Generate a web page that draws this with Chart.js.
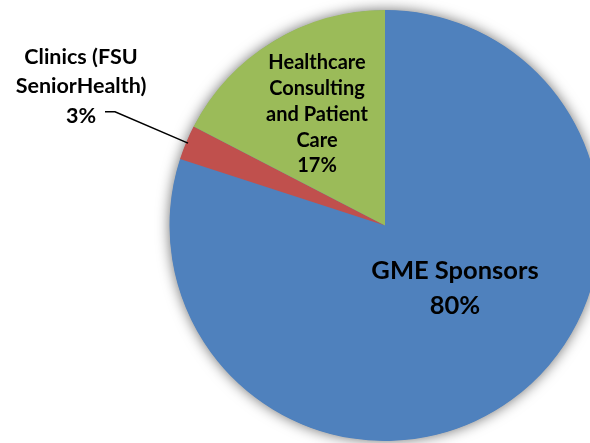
<!DOCTYPE html>
<html>
<head>
<meta charset="utf-8">
<script src="https://cdn.jsdelivr.net/npm/chart.js@4/dist/chart.umd.min.js"></script>
<style>
  html, body { margin: 0; padding: 0; background: #fff; overflow: hidden; width: 590px; height: 443px; }
  #wrap { position: absolute; left: 0; top: 0; width: 770px; height: 443px; }
</style>
</head>
<body>
<div id="wrap"><canvas id="c" width="770" height="443"></canvas></div>
<script>
const categories = ["GME Sponsors", "Clinics (FSU SeniorHealth)", "Healthcare Consulting and Patient Care"];
const values = [80, 2.6, 17.4];
const percentLabels = ["80%", "3%", "17%"];
const colors = ["#4F81BD", "#C0504D", "#9BBB59"];
const labelLines = [
  ["GME Sponsors", "80%"],
  ["Clinics (FSU", "SeniorHealth)", "3%"],
  ["Healthcare", "Consulting", "and Patient", "Care", "17%"]
];

const FONT = "Lato, 'Open Sans', 'DejaVu Sans', sans-serif";

const shadowPlugin = {
  id: 'pieShadow',
  beforeDatasetsDraw(chart) {
    const arc = chart.getDatasetMeta(0).data[0];
    if (!arc) return;
    const ctx = chart.ctx;
    ctx.save();
    ctx.shadowColor = 'rgba(0,0,0,0.6)';
    ctx.shadowBlur = 14;
    ctx.fillStyle = '#4F81BD';
    ctx.beginPath();
    ctx.arc(arc.x, arc.y, arc.outerRadius - 0.5, 0, Math.PI * 2);
    ctx.fill();
    ctx.restore();
  }
};

const labelPlugin = {
  id: 'sliceLabels',
  afterDatasetsDraw(chart) {
    const ctx = chart.ctx;
    const meta = chart.getDatasetMeta(0);
    const cx = meta.data[0].x, cy = meta.data[0].y, r = meta.data[0].outerRadius;
    ctx.save();
    ctx.fillStyle = '#000';
    ctx.textAlign = 'center';
    ctx.textBaseline = 'alphabetic';
    // GME Sponsors (inside blue)
    ctx.font = "bold 25.5px " + FONT;
    const g = labelLines[0];
    ctx.fillText(g[0], cx + 70, cy + 53);
    ctx.fillText(g[1], cx + 70, cy + 88);
    // Healthcare (inside green)
    ctx.font = "bold 20px " + FONT;
    const h = labelLines[2];
    const hb = [68.5, 94.5, 120.5, 146.5, 172];
    h.forEach((t, i) => ctx.fillText(t, cx - 68, hb[i]));
    // Clinics (outside, with leader line)
    ctx.font = "bold 21.5px " + FONT;
    const c = labelLines[1];
    const cb = [64.3, 93.3, 123.3];
    c.forEach((t, i) => ctx.fillText(t, 81, cb[i]));
    // leader line to the red slice
    const redArc = meta.data[1];
    const mid = (redArc.startAngle + redArc.endAngle) / 2;
    const ex = cx + Math.cos(mid) * (r - 2);
    const ey = cy + Math.sin(mid) * (r - 2);
    ctx.strokeStyle = '#000';
    ctx.lineWidth = 1.5;
    ctx.beginPath();
    ctx.moveTo(105, 111.7);
    ctx.lineTo(115, 111.7);
    ctx.lineTo(ex, ey);
    ctx.stroke();
    ctx.restore();
  }
};

new Chart(document.getElementById('c'), {
  type: 'pie',
  data: {
    labels: categories,
    datasets: [{
      data: values,
      backgroundColor: colors,
      borderWidth: 0
    }]
  },
  options: {
    responsive: false,
    animation: false,
    layout: { padding: { top: 10, bottom: 2, left: 0, right: 0 } },
    plugins: {
      legend: { display: false },
      tooltip: { enabled: false }
    }
  },
  plugins: [shadowPlugin, labelPlugin]
});
</script>
</body>
</html>
